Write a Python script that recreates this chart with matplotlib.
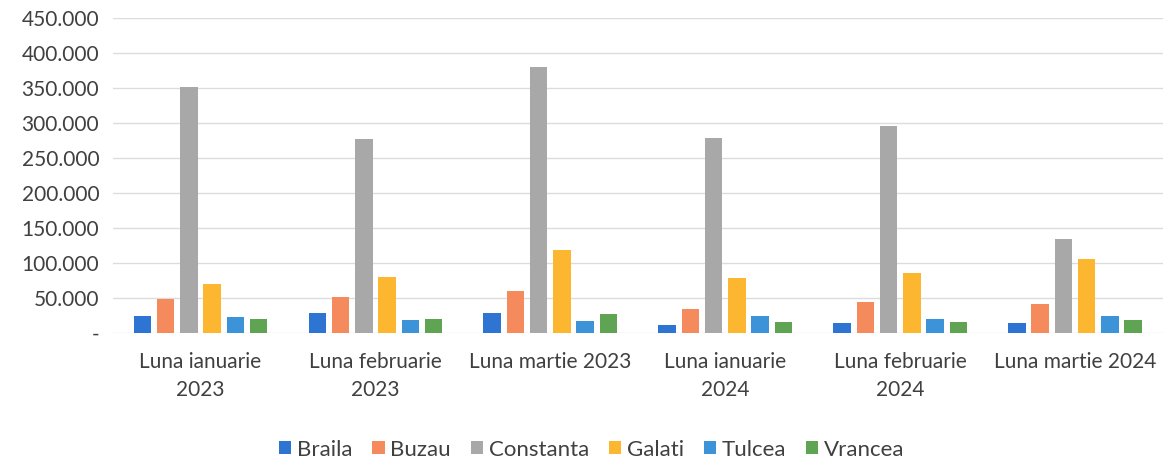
import numpy as np
import matplotlib
matplotlib.use('Agg')
from matplotlib import pyplot as plt
from matplotlib.ticker import FuncFormatter

months = ['Luna ianuarie\n2023', 'Luna februarie\n2023', 'Luna martie 2023',
          'Luna ianuarie\n2024', 'Luna februarie\n2024', 'Luna martie 2024']
counties = ['Braila', 'Buzau', 'Constanta', 'Galati', 'Tulcea', 'Vrancea']

braila = [24000, 28000, 28000, 12000, 14000, 15000]
buzau = [48000, 52000, 60000, 34000, 44000, 42000]
constanta = [351000, 277000, 380000, 278000, 296000, 135000]
galati = [70000, 80000, 118000, 79000, 86000, 106000]
tulcea = [23000, 18000, 17000, 25000, 20000, 25000]
vrancea = [20000, 20000, 27000, 16000, 16000, 18000]

colors = ['#2E74D2', '#F58A5C', '#A8A8A8', '#FDB630', '#3C93D8', '#5EA452']


def fmt(v, pos):
    if v == 0:
        return '-'
    return '{:,.0f}'.format(v).replace(',', '.')


def main():
    plt.rcParams['font.family'] = ['Lato', 'DejaVu Sans']
    series = [braila, buzau, constanta, galati, tulcea, vrancea]
    fig = plt.figure(figsize=(11.66, 4.59), dpi=100)
    ax = fig.add_axes([0.097, 0.2745, 0.9, 0.686])
    x = np.arange(len(months))
    step = 0.133
    width = 0.1
    for i, (name, vals) in enumerate(zip(counties, series)):
        ax.bar(x + (i - 2.5) * step, vals, width, color=colors[i], label=name,
               zorder=3)
    ax.set_xlim(-0.5, len(months) - 0.5)
    ax.set_ylim(0, 450000)
    ax.set_yticks(np.arange(0, 450001, 50000))
    ax.yaxis.set_major_formatter(FuncFormatter(fmt))
    ax.grid(axis='y', color='#dcdcdc', linewidth=1, zorder=0)
    for s in ax.spines.values():
        s.set_visible(False)
    ax.tick_params(axis='y', length=0, labelsize=15, colors='#404040', pad=10)
    ax.set_xticks(x)
    ax.set_xticklabels(months, fontsize=15, color='#404040', linespacing=1.5)
    ax.tick_params(axis='x', length=0, pad=14)
    ax.legend(loc='upper center', bbox_to_anchor=(0.456, -0.275), ncol=6,
              frameon=False, fontsize=16, handlelength=0.55, handleheight=0.55,
              handletextpad=0.25, columnspacing=0.9, labelcolor='#404040')
    plt.savefig('out.png', dpi=100)


if __name__ == '__main__':
    main()
